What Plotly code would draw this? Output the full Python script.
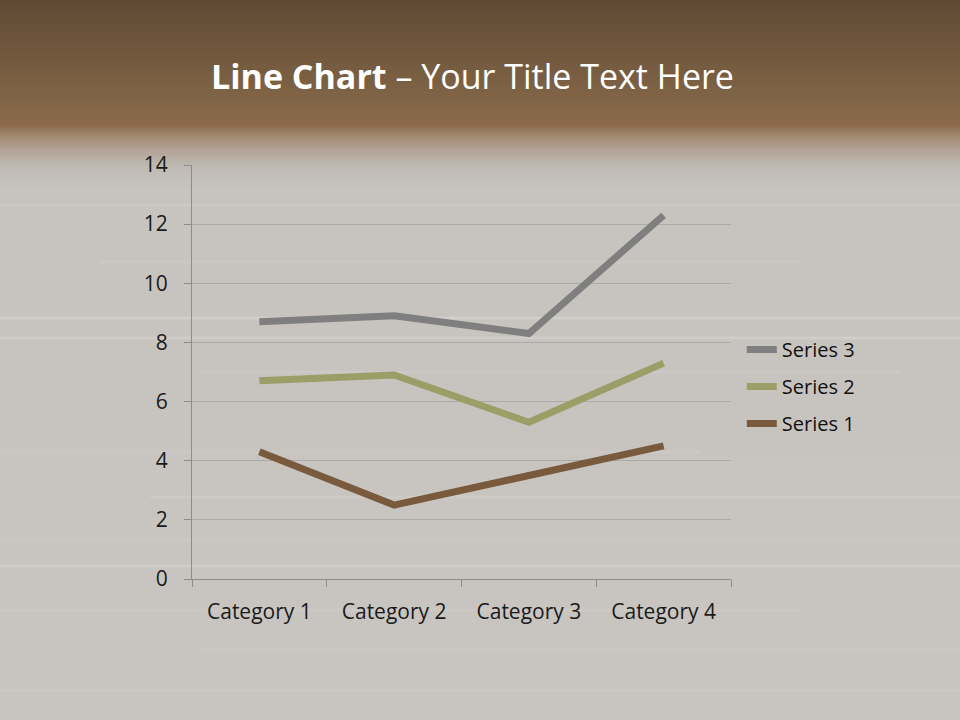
import plotly.graph_objects as go

categories = ["Category 1", "Category 2", "Category 3", "Category 4"]
series1 = [4.3, 2.5, 3.5, 4.5]
series2 = [2.4, 4.4, 1.8, 2.8]
series3 = [2.0, 2.0, 3.0, 5.0]
y_ticks = [0, 2, 4, 6, 8, 10, 12, 14]

colors = {"Series 1": "#7a5a3c", "Series 2": "#9b9e67", "Series 3": "#7f7f7f"}
ranks = {"Series 1": 3, "Series 2": 2, "Series 3": 1}

fig = go.Figure()
for name, vals in [("Series 1", series1), ("Series 2", series2), ("Series 3", series3)]:
    fig.add_trace(go.Scatter(
        x=categories, y=vals, name=name, mode="lines",
        stackgroup="one", fill="none", legendgroup=name, legendrank=ranks[name],
        line=dict(color=colors[name], width=7),
    ))

# background gradient (brown header fading to grey)
shapes = []
def lerp(c1, c2, t):
    return tuple(int(round(a + (b - a) * t)) for a, b in zip(c1, c2))

stops = [(0, (95, 74, 52)), (60, (115, 90, 63)), (125, (139, 107, 75)),
         (135, (160, 135, 110)), (150, (178, 164, 150)), (168, (192, 187, 181)),
         (190, (199, 196, 191)), (720, (200, 197, 193))]
step = 2
for y0 in range(0, 720, step):
    yc = y0 + step / 2
    for (a, ca), (b, cb) in zip(stops[:-1], stops[1:]):
        if a <= yc <= b:
            c = lerp(ca, cb, (yc - a) / (b - a))
            break
    shapes.append(dict(type="rect", xref="paper", yref="paper", layer="below",
                       x0=-192 / 539, x1=(960 - 192) / 539,
                       y0=(579 - (y0 + step)) / 414, y1=(579 - y0) / 414,
                       line=dict(width=0), fillcolor="rgb(%d,%d,%d)" % c))

# faint wood-grain streaks (x0 px, x1 px, y px, opacity)
streaks = [(0, 960, 205, 0.08), (100, 800, 262, 0.08), (0, 960, 318, 0.20), (0, 960, 338, 0.15),
           (200, 900, 372, 0.08), (0, 700, 452, 0.08), (150, 960, 497, 0.10),
           (0, 960, 540, 0.08), (0, 960, 566, 0.12), (0, 800, 610, 0.08), (200, 960, 650, 0.06),
           (0, 960, 690, 0.08)]
for xa, xb, yy, op in streaks:
    shapes.append(dict(type="line", xref="paper", yref="paper", layer="below",
                       x0=(xa - 192) / 539, x1=(xb - 192) / 539,
                       y0=(579 - yy) / 414, y1=(579 - yy) / 414,
                       line=dict(color="rgba(255,255,255,%.2f)" % op, width=3)))

fig.update_layout(
    width=960, height=720,
    margin=dict(l=192, r=229, t=165, b=141),
    paper_bgcolor="rgb(200,197,193)",
    plot_bgcolor="rgba(0,0,0,0)",
    shapes=shapes,
    showlegend=True,
    legend=dict(x=1.02, y=0.465, xanchor="left", yanchor="middle",
                traceorder="grouped", bgcolor="rgba(0,0,0,0)",
                font=dict(family="Open Sans", size=20, color="#111111"),
                itemwidth=30, tracegroupgap=8),
    font=dict(family="Open Sans", size=20, color="#1a1a1a"),
    annotations=[dict(
        text="<b>Line Chart</b> – Your Title Text Here",
        xref="paper", yref="paper", x=(472 - 192) / 539, y=(579 - 76) / 414,
        xanchor="center", yanchor="middle", showarrow=False,
        font=dict(family="Open Sans", size=34, color="white"))],
)
fig.update_xaxes(
    type="category", range=[-0.5, 3.5], showgrid=False,
    showline=True, linecolor="#8c8c8c", linewidth=1,
    ticks="outside", tickson="boundaries", ticklen=7, tickcolor="#8c8c8c",
    ticklabelstandoff=14,
    tickfont=dict(family="Open Sans", size=21, color="#1a1a1a"),
)
fig.update_yaxes(
    range=[0, 14], tickvals=y_ticks, showgrid=True, gridcolor="rgba(150,150,150,0.55)",
    gridwidth=1, zeroline=False,
    showline=True, linecolor="#8c8c8c", linewidth=1,
    ticks="outside", ticklen=7, tickcolor="#8c8c8c",
    ticklabelstandoff=12,
    tickfont=dict(family="Open Sans", size=21, color="#1a1a1a"),
)

fig.write_html("out.html", config={"displayModeBar": False},
               post_script="document.body.style.margin='0';document.body.style.padding='0';")
